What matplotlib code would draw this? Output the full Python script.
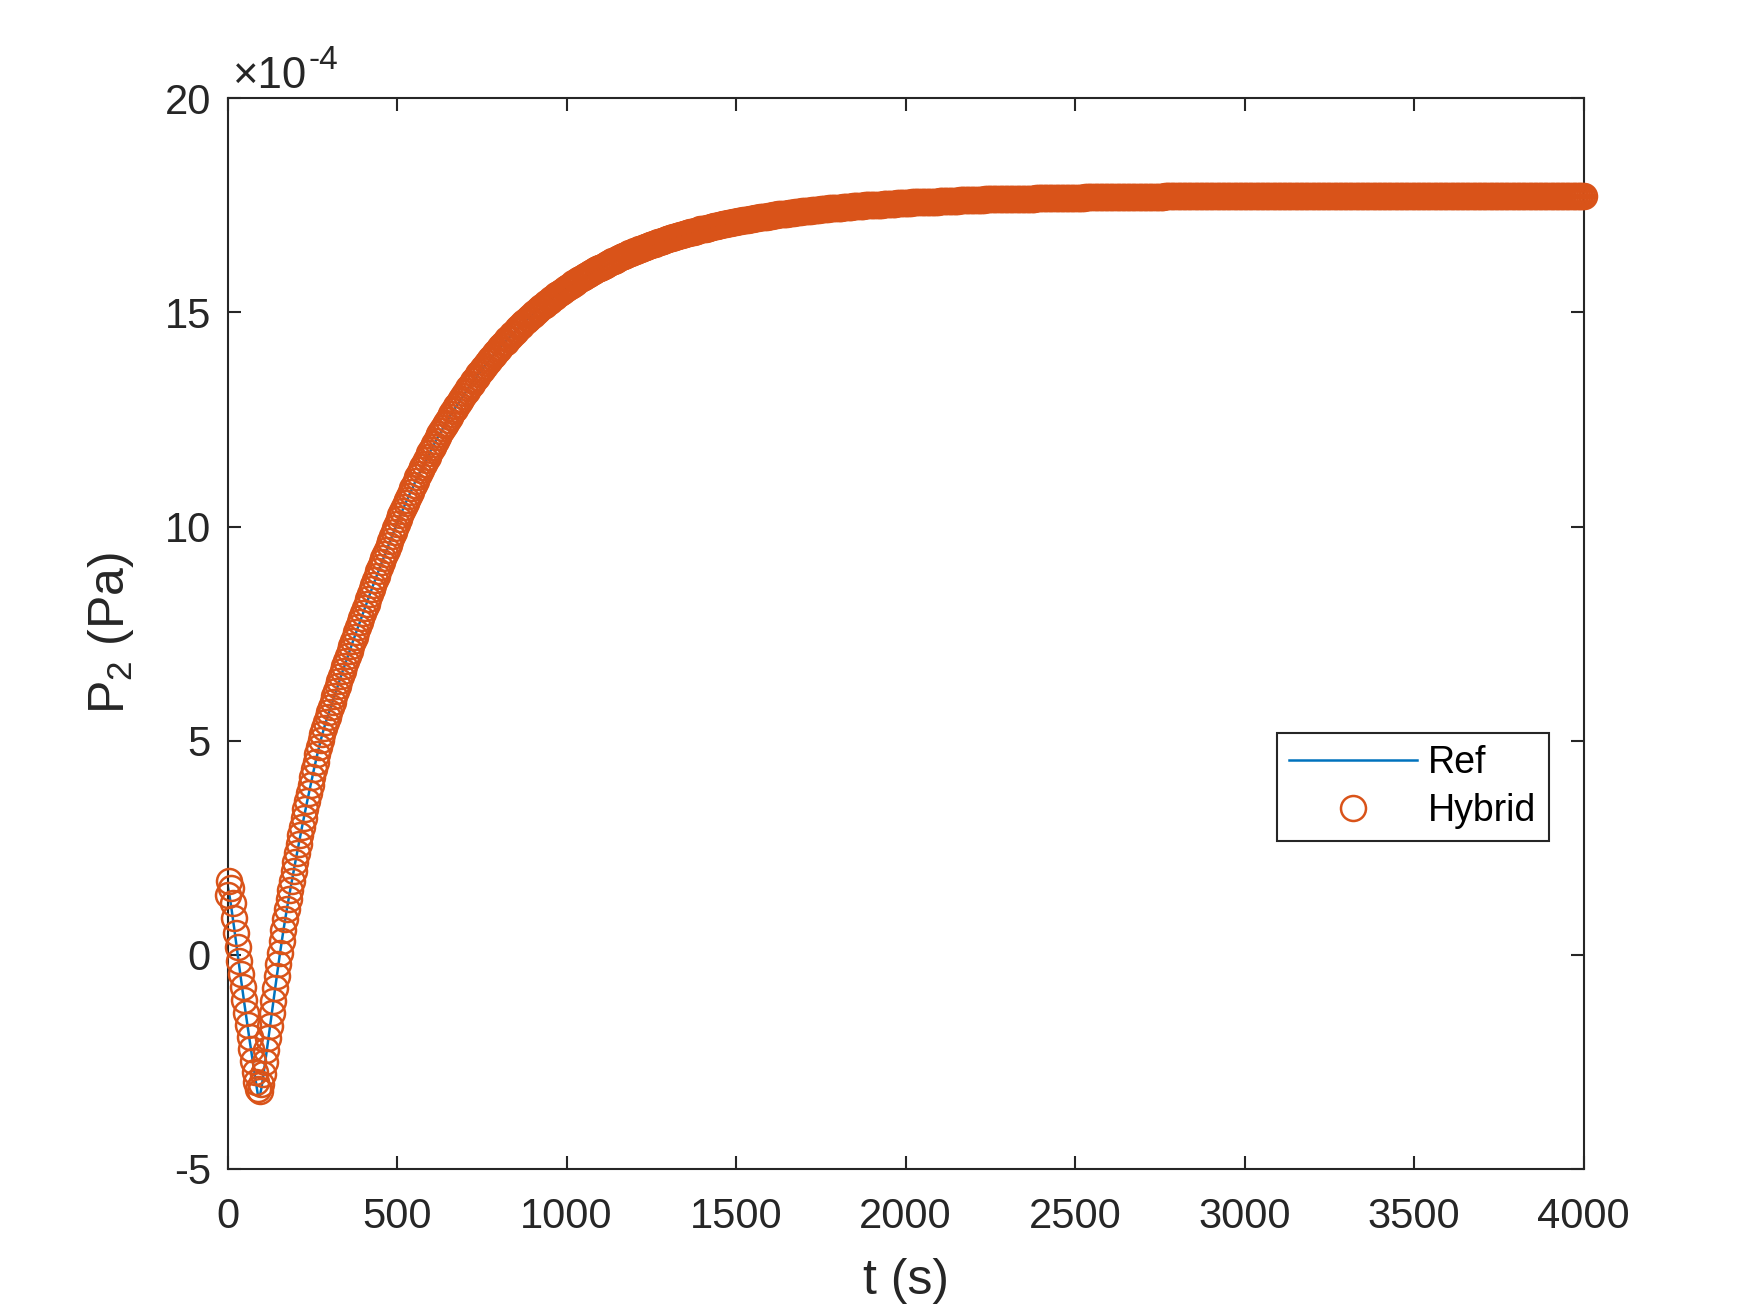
"""P2 pressure history: reference solution against the hybrid solver."""

import numpy as np
import matplotlib

matplotlib.use("Agg")
import matplotlib.pyplot as plt
from matplotlib.transforms import offset_copy

BLUE = "#0072BD"
ORANGE = "#D95319"
INK = "#262626"

# P2 in units of 1e-4 Pa, one sample every 5 s from t = 0 to t = 4000 s
TIME_STEP_S = 5
p2_ref = [
    1.63, 1.42, 1.17, 0.89, 0.60, 0.30, 0.00, -0.30, -0.59, -0.88,
    -1.16, -1.44, -1.72, -1.99, -2.26, -2.52, -2.78, -3.04, -3.30, -3.32,
    -3.12, -2.86, -2.58, -2.29, -2.00, -1.70, -1.41, -1.11, -0.82, -0.53,
    -0.24, 0.04, 0.31, 0.57, 0.82, 1.06, 1.29, 1.51, 1.73, 1.95,
    2.16, 2.37, 2.58, 2.79, 2.99, 3.19, 3.39, 3.58, 3.77, 3.96,
    4.15, 4.33, 4.51, 4.68, 4.85, 5.01, 5.16, 5.30, 5.43, 5.55,
    5.67, 5.79, 5.91, 6.03, 6.15, 6.27, 6.39, 6.51, 6.63, 6.74,
    6.86, 6.97, 7.09, 7.20, 7.32, 7.43, 7.54, 7.65, 7.76, 7.87,
    7.98, 8.09, 8.20, 8.31, 8.42, 8.53, 8.64, 8.74, 8.85, 8.95,
    9.06, 9.16, 9.26, 9.36, 9.46, 9.57, 9.67, 9.77, 9.87, 9.97,
    10.07, 10.17, 10.26, 10.36, 10.45, 10.54, 10.63, 10.72, 10.81, 10.89,
    10.98, 11.07, 11.15, 11.23, 11.31, 11.39, 11.47, 11.55, 11.63, 11.71,
    11.78, 11.86, 11.93, 12.00, 12.08, 12.15, 12.22, 12.29, 12.36, 12.42,
    12.49, 12.56, 12.62, 12.69, 12.75, 12.81, 12.87, 12.93, 12.99, 13.05,
    13.11, 13.17, 13.23, 13.29, 13.34, 13.40, 13.45, 13.50, 13.56, 13.61,
    13.66, 13.71, 13.76, 13.81, 13.86, 13.91, 13.96, 14.01, 14.05, 14.10,
    14.15, 14.19, 14.24, 14.28, 14.32, 14.37, 14.41, 14.45, 14.49, 14.53,
    14.57, 14.61, 14.65, 14.69, 14.73, 14.77, 14.80, 14.84, 14.88, 14.91,
    14.95, 14.98, 15.02, 15.05, 15.08, 15.12, 15.15, 15.18, 15.22, 15.25,
    15.28, 15.31, 15.34, 15.37, 15.40, 15.43, 15.46, 15.49, 15.51, 15.54,
    15.57, 15.60, 15.62, 15.65, 15.68, 15.70, 15.73, 15.75, 15.78, 15.80,
    15.83, 15.85, 15.87, 15.90, 15.92, 15.94, 15.97, 15.99, 16.01, 16.03,
    16.05, 16.07, 16.09, 16.12, 16.14, 16.16, 16.18, 16.20, 16.21, 16.23,
    16.25, 16.27, 16.29, 16.31, 16.33, 16.34, 16.36, 16.38, 16.39, 16.41,
    16.43, 16.44, 16.46, 16.48, 16.49, 16.51, 16.52, 16.54, 16.55, 16.57,
    16.58, 16.60, 16.61, 16.63, 16.64, 16.65, 16.67, 16.68, 16.69, 16.71,
    16.72, 16.73, 16.74, 16.76, 16.77, 16.78, 16.79, 16.80, 16.82, 16.83,
    16.84, 16.85, 16.86, 16.87, 16.88, 16.89, 16.90, 16.91, 16.93, 16.94,
    16.95, 16.96, 16.96, 16.97, 16.98, 16.99, 17.00, 17.01, 17.02, 17.03,
    17.04, 17.05, 17.06, 17.06, 17.07, 17.08, 17.09, 17.10, 17.11, 17.11,
    17.12, 17.13, 17.14, 17.14, 17.15, 17.16, 17.17, 17.17, 17.18, 17.19,
    17.19, 17.20, 17.21, 17.21, 17.22, 17.23, 17.23, 17.24, 17.24, 17.25,
    17.26, 17.26, 17.27, 17.27, 17.28, 17.29, 17.29, 17.30, 17.30, 17.31,
    17.31, 17.32, 17.32, 17.33, 17.33, 17.34, 17.34, 17.35, 17.35, 17.36,
    17.36, 17.37, 17.37, 17.38, 17.38, 17.39, 17.39, 17.39, 17.40, 17.40,
    17.41, 17.41, 17.41, 17.42, 17.42, 17.43, 17.43, 17.43, 17.44, 17.44,
    17.44, 17.45, 17.45, 17.46, 17.46, 17.46, 17.47, 17.47, 17.47, 17.48,
    17.48, 17.48, 17.49, 17.49, 17.49, 17.49, 17.50, 17.50, 17.50, 17.51,
    17.51, 17.51, 17.51, 17.52, 17.52, 17.52, 17.52, 17.53, 17.53, 17.53,
    17.54, 17.54, 17.54, 17.54, 17.54, 17.55, 17.55, 17.55, 17.55, 17.56,
    17.56, 17.56, 17.56, 17.56, 17.57, 17.57, 17.57, 17.57, 17.57, 17.58,
    17.58, 17.58, 17.58, 17.58, 17.59, 17.59, 17.59, 17.59, 17.59, 17.59,
    17.60, 17.60, 17.60, 17.60, 17.60, 17.60, 17.61, 17.61, 17.61, 17.61,
    17.61, 17.61, 17.62, 17.62, 17.62, 17.62, 17.62, 17.62, 17.62, 17.63,
    17.63, 17.63, 17.63, 17.63, 17.63, 17.63, 17.63, 17.64, 17.64, 17.64,
    17.64, 17.64, 17.64, 17.64, 17.64, 17.64, 17.65, 17.65, 17.65, 17.65,
    17.65, 17.65, 17.65, 17.65, 17.65, 17.65, 17.66, 17.66, 17.66, 17.66,
    17.66, 17.66, 17.66, 17.66, 17.66, 17.66, 17.66, 17.67, 17.67, 17.67,
    17.67, 17.67, 17.67, 17.67, 17.67, 17.67, 17.67, 17.67, 17.67, 17.67,
    17.67, 17.68, 17.68, 17.68, 17.68, 17.68, 17.68, 17.68, 17.68, 17.68,
    17.68, 17.68, 17.68, 17.68, 17.68, 17.68, 17.69, 17.69, 17.69, 17.69,
    17.69, 17.69, 17.69, 17.69, 17.69, 17.69, 17.69, 17.69, 17.69, 17.69,
    17.69, 17.69, 17.69, 17.69, 17.69, 17.69, 17.70, 17.70, 17.70, 17.70,
    17.70, 17.70, 17.70, 17.70, 17.70, 17.70, 17.70, 17.70, 17.70, 17.70,
    17.70, 17.70, 17.70, 17.70, 17.70, 17.70, 17.70, 17.70, 17.70, 17.70,
    17.70, 17.70, 17.70, 17.71, 17.71, 17.71, 17.71, 17.71, 17.71, 17.71,
    17.71, 17.71, 17.71, 17.71, 17.71, 17.71, 17.71, 17.71, 17.71, 17.71,
    17.71, 17.71, 17.71, 17.71, 17.71, 17.71, 17.71, 17.71, 17.71, 17.71,
    17.71, 17.71, 17.71, 17.71, 17.71, 17.71, 17.71, 17.71, 17.71, 17.71,
    17.71, 17.71, 17.71, 17.72, 17.72, 17.72, 17.72, 17.72, 17.72, 17.72,
    17.72, 17.72, 17.72, 17.72, 17.72, 17.72, 17.72, 17.72, 17.72, 17.72,
    17.72, 17.72, 17.72, 17.72, 17.72, 17.72, 17.72, 17.72, 17.72, 17.72,
    17.72, 17.72, 17.72, 17.72, 17.72, 17.72, 17.72, 17.72, 17.72, 17.72,
    17.72, 17.72, 17.72, 17.72, 17.72, 17.72, 17.72, 17.72, 17.72, 17.72,
    17.72, 17.72, 17.72, 17.72, 17.72, 17.72, 17.72, 17.72, 17.72, 17.72,
    17.72, 17.72, 17.72, 17.72, 17.72, 17.72, 17.72, 17.72, 17.72, 17.72,
    17.72, 17.72, 17.72, 17.72, 17.72, 17.72, 17.72, 17.72, 17.72, 17.72,
    17.72, 17.72, 17.72, 17.72, 17.72, 17.72, 17.72, 17.72, 17.72, 17.72,
    17.73, 17.73, 17.73, 17.73, 17.73, 17.73, 17.73, 17.73, 17.73, 17.73,
    17.73, 17.73, 17.73, 17.73, 17.73, 17.73, 17.73, 17.73, 17.73, 17.73,
    17.73, 17.73, 17.73, 17.73, 17.73, 17.73, 17.73, 17.73, 17.73, 17.73,
    17.73, 17.73, 17.73, 17.73, 17.73, 17.73, 17.73, 17.73, 17.73, 17.73,
    17.73, 17.73, 17.73, 17.73, 17.73, 17.73, 17.73, 17.73, 17.73, 17.73,
    17.73, 17.73, 17.73, 17.73, 17.73, 17.73, 17.73, 17.73, 17.73, 17.73,
    17.73, 17.73, 17.73, 17.73, 17.73, 17.73, 17.73, 17.73, 17.73, 17.73,
    17.73, 17.73, 17.73, 17.73, 17.73, 17.73, 17.73, 17.73, 17.73, 17.73,
    17.73, 17.73, 17.73, 17.73, 17.73, 17.73, 17.73, 17.73, 17.73, 17.73,
    17.73, 17.73, 17.73, 17.73, 17.73, 17.73, 17.73, 17.73, 17.73, 17.73,
    17.73, 17.73, 17.73, 17.73, 17.73, 17.73, 17.73, 17.73, 17.73, 17.73,
    17.73, 17.73, 17.73, 17.73, 17.73, 17.73, 17.73, 17.73, 17.73, 17.73,
    17.73,
]

# the hybrid run departs from the reference only over the first 150 s
p2_hybrid_start = [
    1.38, 1.72, 1.55, 1.20, 0.85, 0.50, 0.18, -0.14, -0.45, -0.76,
    -1.06, -1.36, -1.65, -1.93, -2.21, -2.48, -2.74, -2.98, -3.14, -3.18,
    -3.02, -2.78, -2.51, -2.23, -1.95, -1.66, -1.37, -1.08, -0.79, -0.50,
    -0.22,
]
p2_hybrid = p2_hybrid_start + p2_ref[len(p2_hybrid_start):]

x_ticks = [0, 500, 1000, 1500, 2000, 2500, 3000, 3500, 4000]
y_ticks = [-5, 0, 5, 10, 15, 20]


def main() -> None:
    plt.rcParams["font.family"] = ["Liberation Sans", "DejaVu Sans"]
    plt.rcParams["mathtext.fontset"] = "custom"
    plt.rcParams["mathtext.rm"] = "Liberation Sans"
    plt.rcParams["mathtext.it"] = "Liberation Sans:italic"
    plt.rcParams["axes.unicode_minus"] = False

    time_s = np.arange(len(p2_ref)) * TIME_STEP_S

    fig = plt.figure(figsize=(1750 / 300, 1313 / 300), dpi=300, facecolor="white")
    ax = fig.add_axes([0.13, 0.11, 0.775, 0.815])

    ax.plot(time_s, p2_ref, color=BLUE, linewidth=0.6, label="Ref", zorder=2)
    ax.plot(time_s, p2_hybrid, linestyle="none", marker="o", markersize=6,
            markerfacecolor="none", markeredgecolor=ORANGE, markeredgewidth=0.6,
            label="Hybrid", clip_on=False, zorder=3)

    ax.set_xlim(0, 4000)
    ax.set_ylim(-5, 20)
    ax.set_xticks(x_ticks)
    ax.set_yticks(y_ticks)
    ax.tick_params(direction="in", length=3.2, width=0.5, colors=INK,
                   labelsize=10, top=True, right=True, pad=4)
    ax.tick_params(axis="x", pad=6.8)
    for spine in ax.spines.values():
        spine.set_linewidth(0.5)
        spine.set_color(INK)

    ax.set_xlabel("t (s)", fontsize=12, color=INK, labelpad=5)
    ax.set_ylabel(r"P$_{\mathregular{2}}$ (Pa)", fontsize=12, color=INK, labelpad=6.8)

    # MATLAB-style exponent label above the top-left corner
    base = ax.text(0.004, 1.01, "\u00d710", transform=ax.transAxes,
                   ha="left", va="baseline", fontsize=10.5, color=INK)
    fig.canvas.draw()
    width_pt = base.get_window_extent().width * 72 / fig.dpi
    ax.text(0.004, 1.01, "-4",
            transform=offset_copy(ax.transAxes, fig=fig, x=width_pt + 0.3, y=4.6,
                                  units="points"),
            ha="left", va="baseline", fontsize=8, color=INK)

    legend = ax.legend(loc="center", bbox_to_anchor=(0.874, 0.3565), fontsize=9,
                       frameon=True, fancybox=False, framealpha=1.0,
                       edgecolor=INK, handlelength=3.4, handletextpad=0.3,
                       borderpad=0.33, labelspacing=0.3, numpoints=1,
                       borderaxespad=0)
    legend.get_frame().set_linewidth(0.5)

    fig.savefig("out.png", dpi=300, facecolor="white")
    plt.close(fig)


if __name__ == "__main__":
    main()
